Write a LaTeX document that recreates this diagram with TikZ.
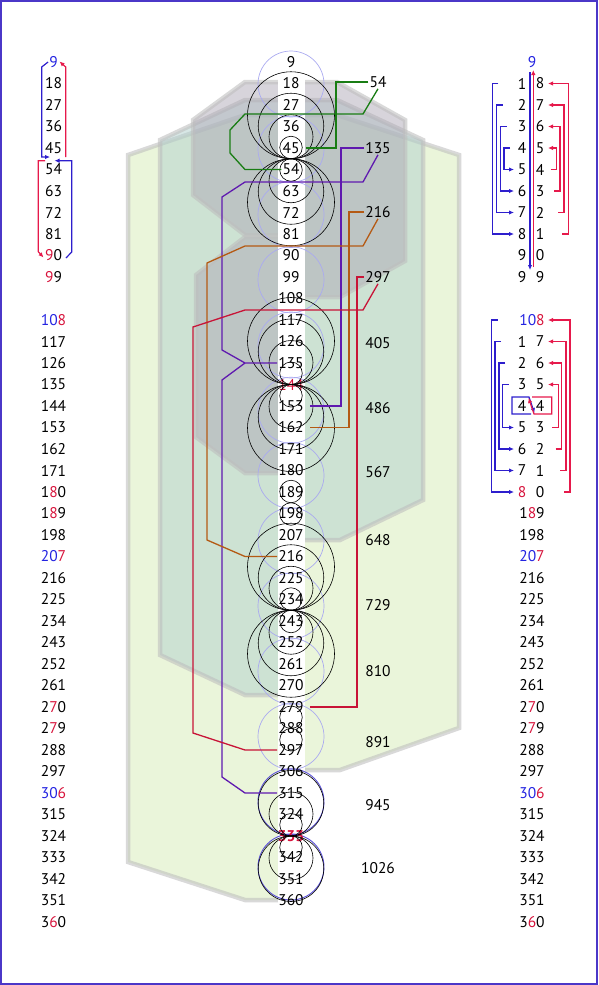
\documentclass[tikz,border=0pt]{standalone}
\usepackage{fontspec}
\setmainfont{PT Sans}
\usetikzlibrary{arrows.meta,calc}

\definecolor{numblue}{RGB}{35,35,225}
\definecolor{numred}{RGB}{215,20,60}
\definecolor{arrblue}{RGB}{45,30,205}
\definecolor{arrred}{RGB}{230,25,75}
\definecolor{lngreen}{RGB}{25,125,20}
\definecolor{lnpurple}{RGB}{95,25,175}
\definecolor{lnbrown}{RGB}{180,90,20}
\definecolor{lnred}{RGB}{200,20,55}
\definecolor{framecol}{RGB}{75,55,200}
\definecolor{limefill}{RGB}{213,235,181}
\definecolor{tealfill}{RGB}{176,207,204}
\definecolor{greyfill}{RGB}{175,170,183}
\definecolor{haloblue}{RGB}{170,170,240}
\definecolor{halodark}{RGB}{90,80,215}

\newcommand{\rdig}[1]{\textcolor{numred}{#1}}
\newcommand{\bdig}[1]{\textcolor{numblue}{#1}}

\tikzset{
  num/.style={font=\fontsize{15.5}{17}\selectfont, inner sep=1pt},
  plate/.style={draw=black!25, draw opacity=0.6, line width=4.5pt, fill opacity=0.5},
  ring/.style={draw=black, line width=0.6pt},
  halo/.style={draw=haloblue, line width=0.7pt},
  conn/.style={line width=1.3pt},
  barrow/.style={draw=arrblue, line width=1.2pt, -{Latex[length=5pt,width=4.5pt]}},
  rarrow/.style={draw=arrred, line width=1.2pt, -{Latex[length=5pt,width=4.5pt]}},
}

\begin{document}
\begin{tikzpicture}[x=1pt,y=-1pt]
  % Layout positions
  \def\xc{291}    % centre column
  \def\xl{53.5}   % left column
  \def\xr{532}    % right column
  \def\xs{378}    % sums
  \def\dy{21.5}   % row step

  \useasboundingbox (0,0) rectangle (598,985);

  % Frame
  \draw[framecol, line width=1.2pt] (1,1) rectangle (597,984);

  % Background plates
  \draw[plate, fill=limefill] (245,115) -- (337,115) -- (459,155) -- (459,728)
    -- (340,770) -- (\xc,770) -- (\xc,900) -- (245,900) -- (128,862) -- (128,155) -- cycle;
  \draw[plate, fill=tealfill] (245,100) -- (337,100) -- (423,140) -- (423,500)
    -- (340,540) -- (\xc,540) -- (\xc,695) -- (245,695) -- (160,655) -- (160,140) -- cycle;
  \draw[plate, fill=greyfill] (245,82) -- (337,82) -- (405,120) -- (405,261)
    -- (340,297) -- (\xc,297) -- (\xc,235) -- (245,235) -- (193,195) -- (193,120) -- cycle;
  \draw[plate, fill=greyfill] (245,237) -- (\xc,237) -- (\xc,473) -- (245,473)
    -- (196,437) -- (196,275) -- cycle;

  % White strip
  \fill[white] (278,74) rectangle (305,904);

  % Blue halos
  \foreach \j in {0,...,10}
    \draw[halo] (\xc,{84+65.25*\j}) circle[radius=33pt];
  \foreach \j in {11,12}
    \draw[halo, draw=halodark, line width=0.9pt] (\xc,{84+65.25*\j}) circle[radius=33pt];

  % Centre column
  \foreach \k in {1,...,40}{
    \pgfmathtruncatemacro\v{9*\k}
    \node[num] (c\v) at (\xc,{62+\dy*(\k-1)})
      {\ifnum\v=144 \color{numred}\fi\ifnum\v=333 \color{numred}\bfseries\fi\v};
  }

  % Tangent rings
  \foreach \T/\N in {158.75/4, 384.5/4, 610.25/4, 836/3, 502.75/1, 728.5/1}
    \foreach \n in {1,...,\N}{
      \pgfmathsetmacro\rr{10.75*\n+0.5}
      \draw[ring] (\xc,{\T-\rr}) circle[radius=\rr pt];
      \draw[ring] (\xc,{\T+\rr}) circle[radius=\rr pt];
    }

  % Sums
  \node[num] (l54) at (\xs,82) {54};
  \node[num] (l135) at (\xs,148) {135};
  \node[num] (l216) at (\xs,212) {216};
  \node[num] (l297) at (\xs,277) {297};
  \foreach \v/\y in {405/343, 486/408, 567/472, 648/540, 729/605,
                     810/671, 891/742, 945/805, 1026/868}
    \node[num] (s\v) at (\xs,\y) {\v};

  % Connectors
  \draw[conn, lngreen] (l54.west) -- (336,82) |- ([xshift=5pt]c45.east);
  \draw[conn, lngreen] (l54.south) -- (363,114) -- (245,114) -- (230,130)
    -- (230,153) -- (245,169.5) -- (c54.west);
  \coordinate (fork) at (245,363);
  \draw[conn, lnpurple] (l135.west) -- (341,148) |- ([xshift=5pt]c153.east);
  \draw[conn, lnpurple] (l135.south) -- (363,182) -- (245,182) -- (222,197)
    -- (222,350) -- (fork) -- (c135.west);
  \draw[conn, lnpurple] (fork) -- (222,380) -- (222,777) -- (245,793) -- (c315.west);
  \draw[conn, lnbrown] (l216.west) -- (349,212) |- ([xshift=5pt]c162.east);
  \draw[conn, lnbrown] (l216.south) -- (363,246) -- (245,246) -- (207,263)
    -- (207,540) -- (245,556.5) -- (c216.west);
  \draw[conn, lnred] (l297.west) -- (357,277) |- ([xshift=5pt]c279.east);
  \draw[conn, lnred] (l297.south) -- (363,310) -- (245,310) -- (193,327)
    -- (193,733) -- (245,750) -- (c297.west);

  % Left column
  \foreach \t [count=\k] in {\bdig{9},18,27,36,45,54,63,72,81,{\rdig{9}0},{\rdig{9}9}}
    \node[num] (a\k) at (\xl,{62+\dy*(\k-1)}) {\t};
  \foreach \t [count=\m from 0] in {{\bdig{10}\rdig{8}},117,126,135,144,153,162,171,
      {1\rdig{8}0},{1\rdig{8}9},198,{\bdig{20}\rdig{7}},216,225,234,243,252,261,
      {2\rdig{7}0},{2\rdig{7}9},288,297,{\bdig{30}\rdig{6}},315,324,333,342,351,{3\rdig{6}0}}
    \node[num] (b\m) at (\xl,{320+\dy*\m}) {\t};

  % Left arrows
  \draw[barrow] (a1.west) -- (41.7,67) -- (41.7,157) -- (50,157);
  \draw[rarrow] (65.7,157) -- (65.7,67) -- (59.5,61.5);
  \draw[barrow] (66,258) -- (71.7,252) -- (71.7,160.7) -- (54.5,160.7);
  \draw[rarrow] (45,160.7) -- (38.3,160.7) -- (38.3,251.7) -- (43.5,257.5);

  % Right column, upper block
  \node[num] (t0) at (\xr,62) {\bdig{9}};
  \foreach \i in {1,...,9}{
    \pgfmathtruncatemacro\j{9-\i}
    \node[num] (tL\i) at (522,{62+\dy*\i}) {\i};
    \node[num] (tR\i) at (540,{62+\dy*\i}) {\j};
  }
  \node[num] (tL10) at (522,277) {9};
  \node[num] (tR10) at (540,277) {9};
  \draw[barrow] (530,72) -- (530,270);
  \draw[rarrow] (533.3,267) -- (533.3,70);
  \foreach \i/\bx/\rx in {1/492.3/568.3, 2/496.7/564, 3/500.7/560, 4/504/556.7}{
    \pgfmathsetmacro\ya{62+\dy*\i}
    \pgfmathsetmacro\yb{62+\dy*(9-\i)}
    \draw[barrow] (\bx+6,\ya) -- (\bx,\ya) -- (\bx,\yb) -- (514,\yb);
    \draw[rarrow] (\rx-6,\yb) -- (\rx,\yb) -- (\rx,\ya) -- (548,\ya);
  }

  % Right column, lower block
  \node[num] (p0) at (\xr,320) {\bdig{10}\rdig{8}};
  \foreach \i in {1,...,8}{
    \pgfmathtruncatemacro\j{8-\i}
    \node[num] (pL\i) at (522,{320+\dy*\i}) {\ifnum\i=8 \color{numred}\fi\i};
    \node[num] (pR\i) at (540,{320+\dy*\i}) {\j};
  }
  \foreach \t [count=\m from 9] in {{1\rdig{8}9},198,{\bdig{20}\rdig{7}},216,225,234,
      243,252,261,{2\rdig{7}0},{2\rdig{7}9},288,297,{\bdig{30}\rdig{6}},315,324,333,
      342,351,{3\rdig{6}0}}
    \node[num] (q\m) at (\xr,{320+\dy*\m}) {\t};
  \foreach \i/\bx/\rx in {0/491.7/570, 1/495/566, 2/499/561.7, 3/502.7/558.3}{
    \pgfmathsetmacro\ya{320+\dy*\i}
    \pgfmathsetmacro\yb{320+\dy*(8-\i)}
    \draw[barrow] (\bx+6,\ya) -- (\bx,\ya) -- (\bx,\yb) -- (514,\yb);
    \draw[rarrow] (\rx-6,\yb) -- (\rx,\yb) -- (\rx,\ya) -- (548,\ya);
  }

  % Swap boxes
  \draw[barrow] (531,414) -- (512,414) -- (512,397) -- (529,397) -- (534.5,413);
  \draw[rarrow] (532,397) -- (551.7,397) -- (551.7,414) -- (534,414) -- (528.5,398);
\end{tikzpicture}
\end{document}
